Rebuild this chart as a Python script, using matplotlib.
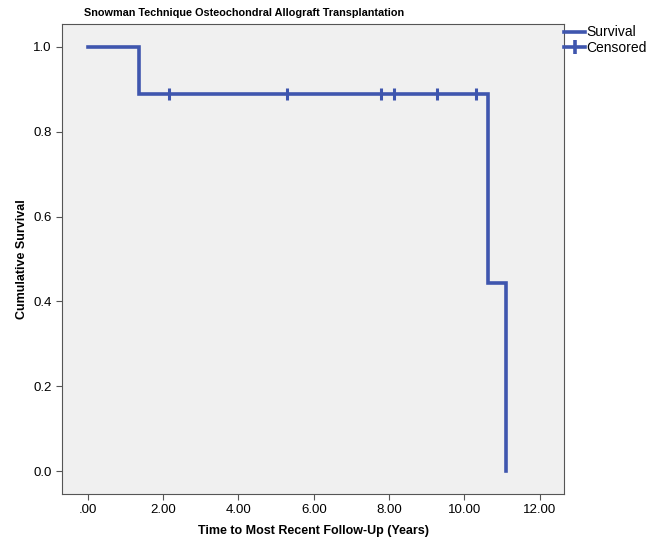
import numpy as np
import matplotlib
matplotlib.use("Agg")
import matplotlib.pyplot as plt
from matplotlib.lines import Line2D
from matplotlib import font_manager

# === Kaplan-Meier data ===
step_times = [0.0, 1.35, 10.64, 11.11]
step_surv = [1.0, 0.889, 0.444, 0.0]
end_time = 11.11
censor_times = [2.15, 5.28, 7.80, 8.12, 9.28, 10.32]
censor_surv = [0.889] * len(censor_times)

xticks = [0, 2, 4, 6, 8, 10, 12]
xticklabels = [".00", "2.00", "4.00", "6.00", "8.00", "10.00", "12.00"]
yticks = [0.0, 0.2, 0.4, 0.6, 0.8, 1.0]

BLUE = "#3f56ae"
plt.rcParams["font.family"] = ["Liberation Sans", "DejaVu Sans"]

names = {f.name for f in font_manager.fontManager.ttflist}
title_font = "Liberation Sans Narrow" if "Liberation Sans Narrow" in names else "Liberation Sans"
title_size = 11 if title_font == "Liberation Sans Narrow" else 7.8

fig = plt.figure(figsize=(6.58, 5.4), dpi=100)
ax = fig.add_axes([62 / 658, 1 - 494 / 540, (564 - 62) / 658, (494 - 24) / 540])
ax.set_facecolor("#f0f0f0")

xs = step_times + [end_time]
ys = step_surv + [step_surv[-1]]
ax.step(xs, ys, where="post", color=BLUE, lw=2.6, solid_joinstyle="miter")
ax.plot(censor_times, censor_surv, ls="none", marker="|", ms=8, mew=2.2, color=BLUE)

ax.set_xlim(-0.69, 12.65)
ax.set_ylim(-0.054, 1.054)
ax.set_xticks(xticks)
ax.set_xticklabels(xticklabels)
ax.set_yticks(yticks)
ax.set_yticklabels([f"{v:.1f}" for v in yticks])
ax.tick_params(labelsize=9.5, length=4, color="#555555")
for s in ax.spines.values():
    s.set_color("#555555")

ax.set_xlabel("Time to Most Recent Follow-Up (Years)", fontsize=9, fontweight="bold", labelpad=6)
ax.set_ylabel("Cumulative Survival", fontsize=9, fontweight="bold")
fig.text(244 / 658, 1 - 13 / 540, "Snowman Technique Osteochondral Allograft Transplantation",
         ha="center", va="center", fontsize=title_size, fontweight="bold", family=title_font)

handles = [
    Line2D([], [], color=BLUE, lw=2.6, drawstyle="steps-mid"),
    Line2D([], [], color=BLUE, lw=2.6, marker="|", ms=10, mew=2.6),
]
fig.legend(handles, ["Survival", "Censored"], loc="upper left",
           bbox_to_anchor=(563 / 658, 1 - 24 / 540), frameon=False,
           fontsize=10, handlelength=1.5, handletextpad=0.1,
           labelspacing=0.1, borderpad=0.1, borderaxespad=0)

fig.savefig("out.png", dpi=100)
